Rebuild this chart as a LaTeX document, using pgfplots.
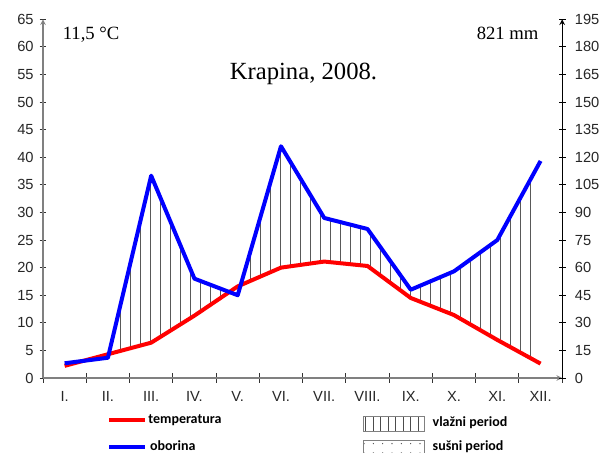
\documentclass[border=0pt]{standalone}
\usepackage{fontspec}
\setmainfont{Liberation Sans}
\newfontfamily\timesf{Liberation Serif}
\newfontfamily\calib{Carlito}
\usepackage{pgfplots}
\usepackage{pgfplotstable}
\pgfplotsset{compat=1.18}
\usepgfplotslibrary{fillbetween}
\usetikzlibrary{patterns.meta}

% monthly values, Krapina 2008 (temperature in C, precipitation in mm)
\pgfplotstableread{
m  t     p
1  2.2   8
2  4.3   11
3  6.4   110
4  11.3  54
5  16.6  45
6  20.0  126
7  21.1  87
8  20.3  81
9  14.5  48
10 11.4  58
11 6.9   75
12 2.6   118
}\klima

\begin{document}
\begin{tikzpicture}
\pgfplotsset{
  common/.style={
    width=389.4pt, height=269pt, scale only axis,
    xmin=0.5, xmax=12.5,
    axis line style={-},
    tick align=center,
    /pgf/number format/assume math mode=true,
    tick label style={font=\fontsize{11}{13}\selectfont, black!85},
  }
}
\begin{axis}[common,
  name=main,
  clip=false,
  ymin=0, ymax=65,
  ytick={0,5,...,65},
  axis x line=bottom, axis y line=left,
  axis line style={gray, line width=0.9pt},
  xtick={1,...,12},
  xticklabels={I.,II.,III.,IV.,V.,VI.,VII.,VIII.,IX.,X.,XI.,XII.},
  minor xtick={0.5,1.5,...,12.5},
  major x tick style={draw=none},
  minor x tick style={black!80, line width=0.7pt},
  minor tick length=7pt,
  major tick length=5pt,
  ytick style={black!80, line width=0.7pt},
  xticklabel style={yshift=-4pt},
  yticklabel style={xshift=-1pt},
]
\addplot[name path=P, draw=none, forget plot] table[x=m, y expr=\thisrow{p}/3] {\klima};
\addplot[name path=T, draw=none, forget plot] table[x=m, y=t] {\klima};
\addplot[pattern={Lines[angle=90, distance=7.5pt, line width=0.5pt]},
  pattern color=black!65, draw=none] fill between[of=P and T];
\addplot[red, line width=3pt, line join=round] table[x=m, y=t] {\klima};
\addplot[blue, line width=3pt, line join=round] table[x=m, y expr=\thisrow{p}/3] {\klima};

\node[anchor=base west, font=\timesf\fontsize{14}{16}\selectfont] at (axis cs:0.85,61.4) {11,5 °C};
\node[anchor=base east, font=\timesf\fontsize{14}{16}\selectfont] at (axis cs:12.06,61.4) {821 mm};
\node[anchor=base, font=\timesf\fontsize{18.5}{20}\selectfont] at (axis cs:6.52,54.1) {Krapina, 2008.};

% legend
\draw[red, line width=3pt] (axis cs:2.03,-7.66) -- (axis cs:2.85,-7.66);
\draw[blue, line width=3pt] (axis cs:2.03,-12.5) -- (axis cs:2.85,-12.5);
\node[anchor=west, inner sep=0pt, font=\calib\bfseries\fontsize{10.5}{12}\selectfont] at (axis cs:2.93,-7.6) {temperatura};
\node[anchor=west, inner sep=0pt, font=\calib\bfseries\fontsize{10.5}{12}\selectfont] at (axis cs:2.97,-12.35) {oborina};
\draw[gray, line width=0.6pt, pattern={Lines[angle=90, distance=5.6pt, line width=0.6pt]}, pattern color=black!70]
  (axis cs:7.91,-7.0) rectangle (axis cs:9.32,-9.6);
\draw[gray, line width=0.6pt, pattern={Dots[distance=7pt, radius=0.5pt]}, pattern color=black!70]
  (axis cs:7.91,-11.4) rectangle (axis cs:9.32,-14.1);
\node[anchor=west, inner sep=0pt, font=\calib\bfseries\fontsize{10.5}{12}\selectfont] at (axis cs:9.5,-8.1) {vlažni period};
\node[anchor=west, inner sep=0pt, font=\calib\bfseries\fontsize{10.5}{12}\selectfont] at (axis cs:9.5,-12.45) {sušni period};

\coordinate (bl) at (rel axis cs:0,0);
\coordinate (tr) at (rel axis cs:1,1);
\end{axis}
\begin{axis}[common,
  ymin=0, ymax=195,
  ytick={0,15,...,195},
  axis x line=none, axis y line=right,
  axis line style={black, line width=0.9pt},
  major tick length=5pt,
  ytick style={black, line width=0.7pt},
  yticklabel style={xshift=3.5pt},
]
\addplot[draw=none] coordinates {(1,0) (12,195)};
\end{axis}
\pgfresetboundingbox
\path[use as bounding box] ([shift={(-32.25pt,-56.25pt)}]bl) rectangle ([shift={(28.35pt,14.5pt)}]tr);
\end{tikzpicture}
\end{document}
